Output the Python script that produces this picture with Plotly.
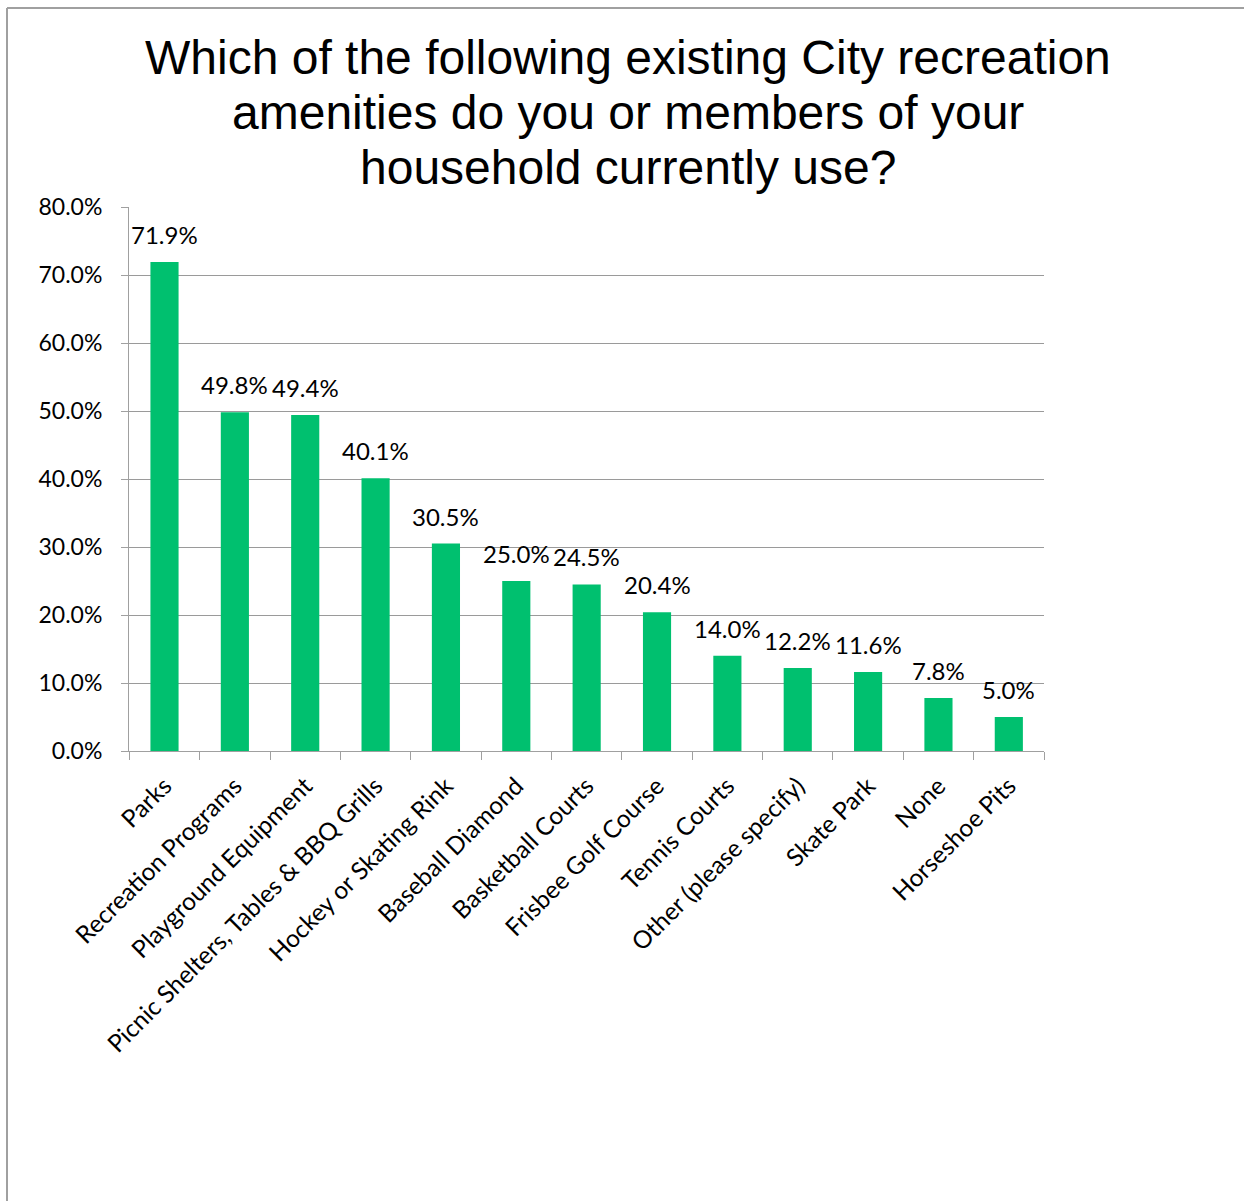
import plotly.graph_objects as go

# Survey results: share of households using each amenity
amenities = [
    "Parks",
    "Recreation Programs",
    "Playground Equipment",
    "Picnic Shelters, Tables & BBQ Grills",
    "Hockey or Skating Rink",
    "Baseball Diamond",
    "Basketball Courts",
    "Frisbee Golf Course",
    "Tennis Courts",
    "Other (please specify)",
    "Skate Park",
    "None",
    "Horseshoe Pits",
]
share_pct = [71.9, 49.8, 49.4, 40.1, 30.5, 25.0, 24.5, 20.4, 14.0, 12.2, 11.6, 7.8, 5.0]

title_lines = [
    "Which of the following existing City recreation",
    "amenities do you or members of your",
    "household currently use?",
]

W, H = 1244, 1201
L, R, T, B = 129, 200, 207, 450
plot_w = W - L - R
plot_h = H - T - B

share = [v / 100 for v in share_pct]

BAR_COLOR = "#00C06F"
GRID = "#9A9A9A"
AXIS = "#A0A0A0"
LABEL_FONT = "Lato, Open Sans, sans-serif"

fig = go.Figure()
fig.add_trace(go.Bar(
    x=amenities,
    y=share,
    marker=dict(color=BAR_COLOR, line=dict(width=0)),
    hoverinfo="skip",
))

# value labels above each bar
for name, v, p in zip(amenities, share, share_pct):
    fig.add_annotation(
        x=name, y=v, text=f"{p:.1f}%",
        showarrow=False, yanchor="bottom", yshift=11,
        font=dict(family=LABEL_FONT, size=24, color="#000000"),
    )

def px_x(px):
    return (px - L) / plot_w

def px_y(py):
    return (H - B - py) / plot_h

# chart title, one annotation per line
for i, line in enumerate(title_lines):
    fig.add_annotation(
        xref="paper", yref="paper",
        x=px_x(628), y=px_y(57 + 55 * i),
        xanchor="center", yanchor="middle",
        text=line, showarrow=False,
        font=dict(family="Liberation Sans, Arial, sans-serif", size=48, color="#000000"),
    )

# outer frame lines (top and left)
fig.add_shape(type="line", xref="paper", yref="paper",
              x0=px_x(7), x1=px_x(W + 2), y0=px_y(8), y1=px_y(8),
              line=dict(color="#A0A0A0", width=2))
fig.add_shape(type="line", xref="paper", yref="paper",
              x0=px_x(7), x1=px_x(7), y0=px_y(8), y1=px_y(H + 2),
              line=dict(color="#A0A0A0", width=2))

fig.update_layout(
    width=W, height=H,
    margin=dict(l=L, r=R, t=T, b=B, pad=0),
    paper_bgcolor="white",
    plot_bgcolor="white",
    showlegend=False,
    bargap=0.6,
    xaxis=dict(
        type="category",
        tickangle=-45,
        ticks="outside", ticklen=8, tickcolor=AXIS, tickwidth=1,
        tickson="boundaries",
        ticklabelstandoff=10,
        showline=True, linecolor=AXIS, linewidth=1,
        showgrid=False,
        tickfont=dict(family=LABEL_FONT, size=24.5, color="#000000"),
        fixedrange=True,
    ),
    yaxis=dict(
        range=[0, 0.8], dtick=0.1, tickformat=".1%",
        ticks="outside", ticklen=7, tickcolor=AXIS, tickwidth=1,
        ticklabelstandoff=14,
        showline=True, linecolor=AXIS, linewidth=1,
        showgrid=True, gridcolor=GRID, gridwidth=1,
        zeroline=False,
        tickfont=dict(family=LABEL_FONT, size=23, color="#000000"),
        fixedrange=True,
    ),
)

fig.write_html("out.html")
